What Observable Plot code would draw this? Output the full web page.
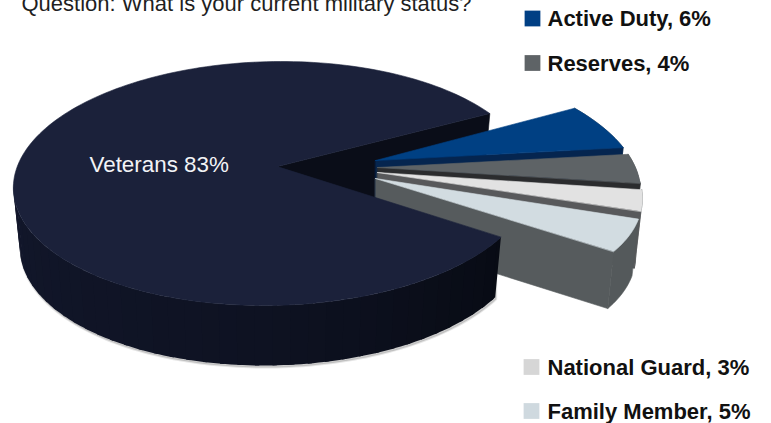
<!DOCTYPE html>
<html>
<head>
<meta charset="utf-8">
<script src="https://cdn.jsdelivr.net/npm/d3@7"></script>
<script src="https://cdn.jsdelivr.net/npm/@observablehq/plot@0.6"></script>
<style>html,body{margin:0;padding:0;background:#fff}svg{display:block}</style>
</head>
<body>
<div id="chart"></div>
<script>
// Data
const titleText = "Question: What is your current military status?";
const bigName = "Veterans";
const bigValue = 83;
const sliceNames = ["Active Duty", "Reserves", "National Guard", "Family Member"];
const sliceValues = [6, 4, 3, 5];
const topColors = ["#004083", "#5e6366", "#e2e2e2", "#d2dce1"];
const cutColors = ["#05254f", "#2b2c2e", "#58595b", "#565b5d"];
const swatchColors = ["#003f84", "#5e6366", "#d6d6d6", "#cfd9df"];

// Projection of the tilted pie
const big = {cx: 272, cy: 183, rx: 259, ry: 122, skewUp: -0.074, skewDown: -0.074, depth: 60, k: 0.975};
const small = {cx: 375, cy: 180, rx: 264, ry: 123, skewUp: 0.2, skewDown: 0.32, depth: 57, k: 0.975};
const bigApex = {x: 277, y: 166};
const sliceApexes = [{x: 375, y: 160}, {x: 377, y: 167}, {x: 377, y: 172}, {x: 375, y: 178}];
const padAfter = [3.3, 3, 3.8, 0];
const startAngle = 35;
const smallStart = 36;

const rad = Math.PI / 180;
function rim(p, a) {
  const y = p.cy - p.ry * Math.sin(a * rad);
  const skew = y < p.cy ? p.skewUp : p.skewDown;
  return {x: p.cx + p.rx * Math.cos(a * rad) + skew * (y - p.cy), y};
}
function low(p, q) {
  return {x: p.cx + (q.x - p.cx) * p.k, y: q.y + p.depth};
}
function arc(p, a0, a1) {
  const n = Math.max(2, Math.ceil(Math.abs(a1 - a0) / 1.5));
  return d3.range(n + 1).map(i => rim(p, a0 + (a1 - a0) * i / n));
}
const poly = (pts, fill, extra = {}) =>
  Plot.line(pts, {x: "x", y: "y", fill, stroke: fill, strokeWidth: 0.6, curve: "linear-closed", ...extra});

const bigSweep = bigValue * 3.6;
const bigEnd = startAngle + bigSweep;
const unit = (360 - bigSweep) / d3.sum(sliceValues);

const marks = [];

// soft shadow under the big slice
const shadowArc = arc(big, 180, bigEnd).map(q => { const l = low(big, q); return {x: l.x + 1, y: l.y + 2}; });
marks.push(poly([...shadowArc, {x: shadowArc[shadowArc.length - 1].x, y: 240}, {x: 100, y: 240}], "#9a9a9a", {strokeWidth: 2, strokeOpacity: 0.25, fillOpacity: 0.5}));

// rear cut wall of the big slice
const upper = rim(big, startAngle);
marks.push(poly([bigApex, upper, low(big, upper), low(big, bigApex)], "#0a0d18"));

// small exploded slices, top to bottom
let a = smallStart;
sliceValues.forEach((v, i) => {
  const a0 = a, a1 = a - v * unit;
  const apex = sliceApexes[i];
  const top = arc(small, a0, a1);
  const lower = top.map(q => low(small, q));
  const end = top[top.length - 1];
  marks.push(poly([...top, ...lower.slice().reverse()], "#54595b"));
  marks.push(poly([apex, end, low(small, end), low(small, apex)], cutColors[i]));
  marks.push(poly([apex, ...top], topColors[i]));
  a = a1 - padAfter[i];
});

// outer wall of the big slice, in shaded bands
const wallColor = d3.scaleLinear().domain([180, 270, bigEnd]).range(["#12172b", "#0e1222", "#080b14"]);
const bandEdges = d3.range(180, bigEnd, 4).concat(bigEnd);
const bands = d3.pairs(bandEdges).flatMap(([b0, b1], band) => {
  const t = arc(big, b0, b1 + (b1 < bigEnd ? 1 : 0));
  const color = wallColor((b0 + b1) / 2);
  return [...t, ...t.map(q => low(big, q)).reverse()].map(q => ({...q, color, band}));
});
marks.push(Plot.line(bands, {x: "x", y: "y", z: "band", fill: "color", stroke: "none", curve: "linear-closed"}));

// big top face
marks.push(poly([bigApex, ...arc(big, startAngle, bigEnd)], "#1b213a"));

// texts
marks.push(Plot.text([titleText], {x: () => 21, y: () => 10, text: d => d, textAnchor: "start", lineAnchor: "bottom", fontSize: 22, fill: "#1f1f1f", fontFamily: "Liberation Sans"}));
marks.push(Plot.text([`${bigName} ${bigValue}%`], {x: () => 89, y: () => 171, text: d => d, textAnchor: "start", lineAnchor: "bottom", fontSize: 22.4, fill: "#f2f3f6", fontFamily: "Liberation Sans"}));

// legend
const legendX = [524, 524, 523, 523];
const legendY = [18, 62.5, 366.5, 410.5];
const legend = sliceNames.map((name, i) => ({name, value: sliceValues[i], x: legendX[i], y: legendY[i], color: swatchColors[i]}));
marks.push(Plot.dot(legend, {x: d => d.x + 8, y: "y", symbol: "square", r: 8.9, fill: "color", stroke: "none"}));
marks.push(Plot.text(legend, {x: () => 547, y: d => d.y + 7.5, text: d => `${d.name}, ${d.value}%`, textAnchor: "start", lineAnchor: "bottom", fontSize: 22, fontWeight: "bold", fill: "#111", fontFamily: "Liberation Sans"}));

const chart = Plot.plot({
  width: 771, height: 423,
  margin: 0,
  style: {background: "#fff", overflow: "hidden"},
  x: {domain: [0, 771], range: [0, 771], axis: null},
  y: {domain: [0, 423], range: [0, 423], axis: null},
  marks
});
document.getElementById("chart").append(chart);
</script>
</body>
</html>
